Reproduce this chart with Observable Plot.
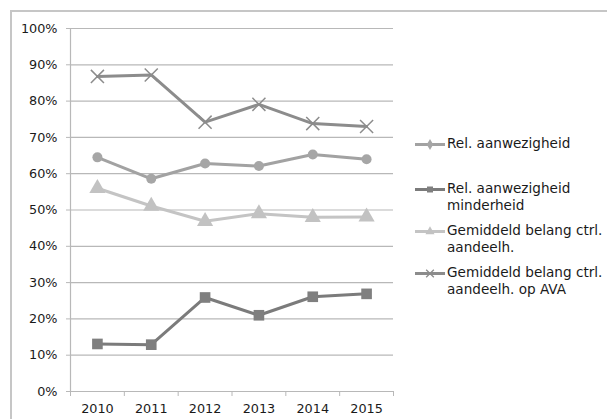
<!DOCTYPE html>
<html>
<head>
<meta charset="utf-8">
<script src="https://cdn.jsdelivr.net/npm/d3@7"></script>
<script src="https://cdn.jsdelivr.net/npm/@observablehq/plot@0.6"></script>
<style>
  body { margin: 0; background: #fff; font-family: "DejaVu Sans", sans-serif; }
  #page { position: relative; width: 607px; height: 419px; overflow: hidden; }
  #frame { position: absolute; left: 10px; top: 10px; width: 597px; height: 409px;
           border-left: 2px solid #c6c6c6; border-top: 2px solid #c6c6c6; box-sizing: border-box; }
  #chart { position: absolute; left: 0; top: 0; }
  .item { position: absolute; left: 413px; display: flex; align-items: flex-start; }
  .item svg { flex: none; }
  .item span { font-size: 13.6px; line-height: 17px; color: #1a1a1a; margin-left: 2px; margin-top: -1px; white-space: nowrap; }
</style>
</head>
<body>
<div id="page">
  <div id="frame"></div>
  <div id="chart"></div>
  <div id="legend"></div>
</div>
<script>
// Years on the x axis
const years = [2010, 2011, 2012, 2013, 2014, 2015];

// Series values (percent)
const relAanwezigheid = [64.5, 58.6, 62.8, 62.1, 65.3, 64.0];
const relAanwezigheidMinderheid = [13.1, 12.9, 25.9, 21.0, 26.1, 26.9];
const gemBelangCtrl = [56.0, 51.1, 46.9, 49.0, 48.0, 48.1];
const gemBelangCtrlAVA = [86.8, 87.2, 74.2, 79.1, 73.8, 73.0];

// Y tick values (percent)
const yTicks = [0, 10, 20, 30, 40, 50, 60, 70, 80, 90, 100];

const seriesNames = [
  ["Rel. aanwezigheid"],
  ["Rel. aanwezigheid", "minderheid"],
  ["Gemiddeld belang ctrl.", "aandeelh."],
  ["Gemiddeld belang ctrl.", "aandeelh. op AVA"]
];

const series = [
  {values: relAanwezigheid, color: "#a2a2a2", fill: "#a6a6a6", symbol: "circle", plotR: 5, legendSymbol: "diamond"},
  {values: relAanwezigheidMinderheid, color: "#7b7b7b", fill: "#7f7f7f", symbol: "square", plotR: 6, legendSymbol: "square"},
  {values: gemBelangCtrl, color: "#c4c4c4", fill: "#c2c2c2", symbol: "triangle", plotR: 6, legendSymbol: "triangle"},
  {values: gemBelangCtrlAVA, color: "#8c8c8c", fill: "none", symbol: "times", plotR: 6, legendSymbol: "times"}
];

const rows = series.map((s, i) => years.map((year, j) => ({year, value: s.values[j], k: i})));

const bounds = d3.range(2009.5, 2016, 1);
const gridColor = "#b8b8b8";

const marks = [
  Plot.gridY(yTicks, {stroke: gridColor, strokeOpacity: 1, strokeWidth: 1.2}),
  Plot.ruleX([2009.5], {stroke: gridColor, strokeWidth: 1.2}),
  Plot.axisY(yTicks, {tickSize: 4, tickPadding: 9, stroke: gridColor, fill: "#1a1a1a", fontSize: 12.8,
                      tickFormat: d => d + "%", label: null}),
  Plot.axisX(bounds, {tickSize: 5, stroke: gridColor, tickFormat: () => "", label: null}),
  Plot.axisX(years, {tickSize: 0, tickPadding: 12, fill: "#1a1a1a", fontSize: 12.8,
                     tickFormat: d3.format("d"), label: null})
];

series.forEach((s, i) => {
  marks.push(Plot.line(rows[i], {x: "year", y: "value", stroke: s.color, strokeWidth: 3}));
  if (s.symbol === "times") {
    marks.push(Plot.dot(rows[i], {x: "year", y: "value", symbol: "times", r: s.plotR, stroke: s.color, strokeWidth: 1.5}));
  } else {
    marks.push(Plot.dot(rows[i], {x: "year", y: "value", symbol: s.symbol, r: s.plotR, fill: s.fill, stroke: "none"}));
  }
});

const chart = Plot.plot({
  width: 400,
  height: 419,
  marginLeft: 70,
  marginRight: 7,
  marginTop: 28,
  marginBottom: 28,
  style: {fontFamily: "DejaVu Sans, sans-serif", background: "transparent"},
  x: {type: "linear", domain: [2009.5, 2015.5], axis: null},
  y: {domain: [0, 100], axis: null},
  marks
});
document.getElementById("chart").appendChild(chart);

// Legend: swatch of the line and marker with the series name beside it
const legendTops = [136, 181, 223, 265];
const legend = document.getElementById("legend");
series.forEach((s, i) => {
  const item = document.createElement("div");
  item.className = "item";
  item.style.top = legendTops[i] + "px";
  const sw = d3.create("svg").attr("width", 32).attr("height", 17);
  sw.append("line").attr("x1", 2).attr("x2", 32).attr("y1", 8.5).attr("y2", 8.5)
    .attr("stroke", s.color).attr("stroke-width", 3);
  const sym = {diamond: d3.symbolDiamond, square: d3.symbolSquare, triangle: d3.symbolTriangle, times: d3.symbolTimes}[s.legendSymbol];
  const p = sw.append("path").attr("transform", "translate(17,8.5)")
    .attr("d", d3.symbol(sym, s.legendSymbol === "times" ? 40 : 36)());
  if (s.legendSymbol === "times") p.attr("fill", "none").attr("stroke", s.color).attr("stroke-width", 1.3);
  else p.attr("fill", s.fill);
  item.appendChild(sw.node());
  const span = document.createElement("span");
  span.innerHTML = seriesNames[i].join("<br>");
  item.appendChild(span);
  legend.appendChild(item);
});
</script>
</body>
</html>
